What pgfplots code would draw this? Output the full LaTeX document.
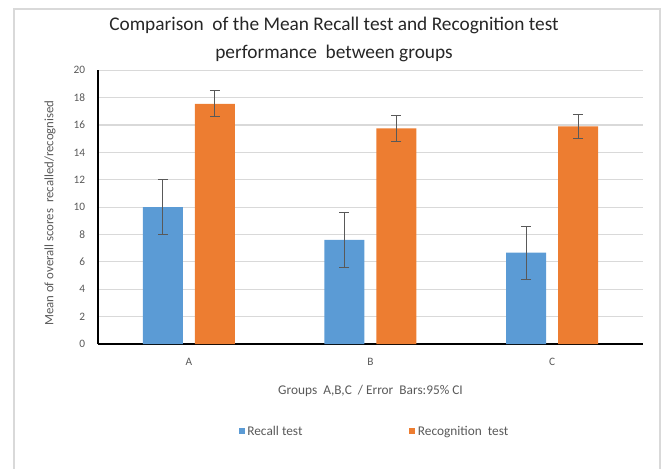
\documentclass[border=0pt]{standalone}
\usepackage{fontspec}
\setmainfont{Carlito}
\usepackage{pgfplots}
\pgfplotsset{compat=1.18}

\definecolor{recallblue}{HTML}{5B9BD5}
\definecolor{recogorange}{HTML}{ED7D31}
\definecolor{gridgray}{HTML}{D9D9D9}
\definecolor{textgray}{HTML}{595959}
\definecolor{framegray}{HTML}{D9D9D9}

\begin{document}
\begin{tikzpicture}
\begin{axis}[
    at={(0,0)}, anchor=south west,
    scale only axis,
    width=408.75pt, height=205.3pt,
    ybar=9pt, bar width=30pt,
    xmin=-0.5, xmax=2.5,
    ymin=0, ymax=20,
    ytick={0,2,...,20},
    xtick={0,1,2},
    xticklabels={A,B,C},
    axis x line*=bottom, axis y line*=left,
    axis line style={-, black, line width=0.8pt},
    major tick length=0pt,
    ymajorgrids, grid style={gridgray, line width=0.8pt},
    tick label style={font=\fontsize{8.5}{9}\selectfont, text=textgray},
    /pgf/number format/assume math mode=true,
    yticklabel style={anchor=east, inner sep=0pt, xshift=-9.5pt},
    xticklabel style={anchor=center, inner sep=0pt, yshift=-13.5pt},
    xlabel={Groups\ \ A,B,C\ \ / Error\ \ Bars:95\% CI},
    xlabel style={at={(axis description cs:0.5,-0.172)}, anchor=center,
        font=\fontsize{10}{11}\selectfont, text=textgray},
    ylabel={Mean of overall scores\ \ recalled/recognised},
    ylabel style={at={(axis description cs:-0.088,0.478)}, anchor=center,
        rotate=0, font=\fontsize{9.6}{10}\selectfont, text=textgray},
    legend columns=2,
    legend style={draw=none, fill=none, at={(axis description cs:0.508,-0.3215)},
        anchor=center, font=\fontsize{10}{11}\selectfont, text=textgray,
        /tikz/every even column/.append style={column sep=78pt}},
    legend image code/.code={\fill[#1] (-3pt,-1.5pt) rectangle (1.5pt,3pt);},
    error bars/y dir=both, error bars/y explicit,
    error bars/error bar style={textgray, line width=0.8pt},
    error bars/error mark options={rotate=90, mark size=3.75pt, line width=0.8pt, textgray},
]
\addplot[draw=none, fill=recallblue] coordinates {
    (0,10.0) +- (0,2.0)
    (1,7.6) +- (0,2.0)
    (2,6.67) +- (0,1.93)
};
\addplot[draw=none, fill=recogorange] coordinates {
    (0,17.55) +- (0,0.95)
    (1,15.75) +- (0,0.95)
    (2,15.9) +- (0,0.9)
};
\legend{Recall test, Recognition\ \ test}
\end{axis}
\node[align=center, font=\fontsize{14.5}{21}\selectfont, text=black!85] at (177pt,228.75pt)
    {Comparison\ \ of the Mean Recall test and Recognition test\\performance\ \ between groups};
\draw[framegray, line width=0.8pt] (-63pt,-100pt) -- (-63pt,251.25pt) -- (421.5pt,251.25pt) -- (421.5pt,-100pt);
\pgfresetboundingbox
\path[use as bounding box] (-73.5pt,-93pt) rectangle (424.5pt,258pt);
\end{tikzpicture}
\end{document}
